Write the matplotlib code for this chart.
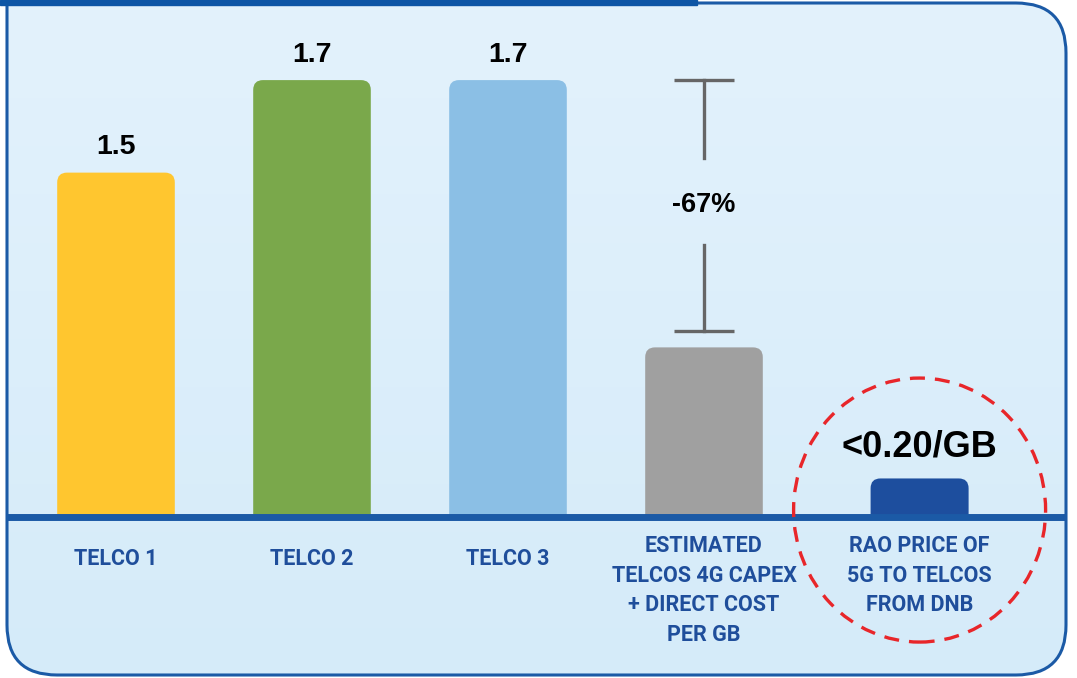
import numpy as np
import matplotlib.pyplot as plt
from matplotlib.patches import FancyBboxPatch, Rectangle, Ellipse, PathPatch
from matplotlib.path import Path
from matplotlib.colors import LinearSegmentedColormap

# data as drawn in the infographic (bar heights are not to scale with the labels)
categories = ['TELCO 1', 'TELCO 2', 'TELCO 3',
              'ESTIMATED\nTELCOS 4G CAPEX\n+ DIRECT COST\nPER GB',
              'RAO PRICE OF\n5G TO TELCOS\nFROM DNB']
bar_heights = [1.34, 1.70, 1.70, 0.66, 0.15]
value_labels = ['1.5', '1.7', '1.7', '', '<0.20/GB']
change_label = '-67%'
bar_colors = ['#FFC62F', '#7AA84B', '#8BBFE5', '#A0A0A0', '#1D4E9E']

BLUE = '#1B5AA6'
TEXT_BLUE = '#1F4E9B'
W, H = 1077, 678

fig = plt.figure(figsize=(W / 100, H / 100), dpi=100, facecolor='white')

# background panel (pixel coords)
bg = fig.add_axes([0, 0, 1, 1])
bg.set_xlim(0, W)
bg.set_ylim(H, 0)
bg.axis('off')

L, R, T, B, r = 7, 1066, 3, 675, 50
verts = [(L, T), (R - r, T), (R, T), (R, T + r), (R, B - r), (R, B), (R - r, B),
         (L + r, B), (L, B), (L, B - r), (L, T)]
codes = [Path.MOVETO, Path.LINETO, Path.CURVE3, Path.CURVE3, Path.LINETO, Path.CURVE3,
         Path.CURVE3, Path.LINETO, Path.CURVE3, Path.CURVE3, Path.LINETO]
border = PathPatch(Path(verts, codes), facecolor='none', edgecolor=BLUE, lw=2.2, zorder=3)
bg.add_patch(border)

cmap = LinearSegmentedColormap.from_list('bgc', ['#E3F2FC', '#D5EBF9'])
grad = np.linspace(0, 1, 256).reshape(-1, 1)
im = bg.imshow(grad, extent=(0, W, H, 0), aspect='auto', cmap=cmap, origin='upper', zorder=1)
im.set_clip_path(border)
bg.add_patch(Rectangle((0, 0), 697, 5, color='#0D55A5', zorder=4))

# chart axes
ax = fig.add_axes([0, 0, 1, 1])
ax.patch.set_alpha(0)
px_x, px_y = 196, 257
ax.set_xlim(-116 / px_x, (W - 116) / px_x)
ax.set_ylim(-(H - 517) / px_y, 517 / px_y)
ax.axis('off')

x = np.arange(len(categories), dtype=float)
x[-1] += 0.1
widths = [0.6, 0.6, 0.6, 0.6, 0.5]

bars = ax.bar(x, bar_heights, width=widths, color=bar_colors)
clip = Rectangle((-5, 0), 20, 5, transform=ax.transData)
for b in bars:
    bx, bw, bh = b.get_x(), b.get_width(), b.get_height()
    c = b.get_facecolor()
    b.remove()
    fb = FancyBboxPatch((bx, -0.1), bw, bh + 0.1,
                        boxstyle='round,pad=0,rounding_size=0.05',
                        mutation_aspect=px_x / px_y, facecolor=c, edgecolor='none', zorder=2)
    ax.add_patch(fb)
    fb.set_clip_path(clip)

ax.plot([7 / px_x - 116 / px_x, 1066 / px_x - 116 / px_x], [0, 0], color=BLUE, lw=5,
        solid_capstyle='butt', zorder=3)

# value labels
for xi, h, lab in zip(x, bar_heights, value_labels):
    if not lab:
        continue
    big = lab.startswith('<')
    ax.text(xi, h + (0.124 if big else 0.098), lab, ha='center', va='center',
            fontsize=26 if big else 20.5, fontweight='bold', color='black',
            family=['Liberation Sans', 'DejaVu Sans'])

# -67% bracket
xb = x[3]
top, bot = bar_heights[1], bar_heights[3] + 0.064
gc = '#666666'
ax.plot([xb, xb], [top, 1.397], color=gc, lw=2.4, zorder=3)
ax.plot([xb, xb], [1.058, bot], color=gc, lw=2.4, zorder=3)
for yy in (top, bot):
    ax.plot([xb - 0.153, xb + 0.153], [yy, yy], color=gc, lw=2.4, solid_capstyle='butt')
ax.text(xb, 1.214, change_label, ha='center', va='center', fontsize=19.5,
        fontweight='bold', color='black', family=['Liberation Sans', 'DejaVu Sans'])

# category labels
for xi, lab in zip(x, categories):
    if '\n' in lab:
        ax.text(xi, -0.07, lab, ha='center', va='top', fontsize=15.5, fontweight='bold',
                color=TEXT_BLUE, linespacing=1.45, family=['Roboto', 'DejaVu Sans'])
    else:
        ax.text(xi, -0.162, lab, ha='center', va='center', fontsize=15.5, fontweight='bold',
                color=TEXT_BLUE, family=['Roboto', 'DejaVu Sans'])

# dashed red circle around the last bar
ax.add_patch(Ellipse((x[-1], 0.027), 252 / px_x, 264 / px_y, facecolor='none',
                     edgecolor='#E8262A', lw=2.4, linestyle=(0, (4.5, 3)), zorder=5))

fig.savefig('out.png', dpi=100, facecolor='white')
